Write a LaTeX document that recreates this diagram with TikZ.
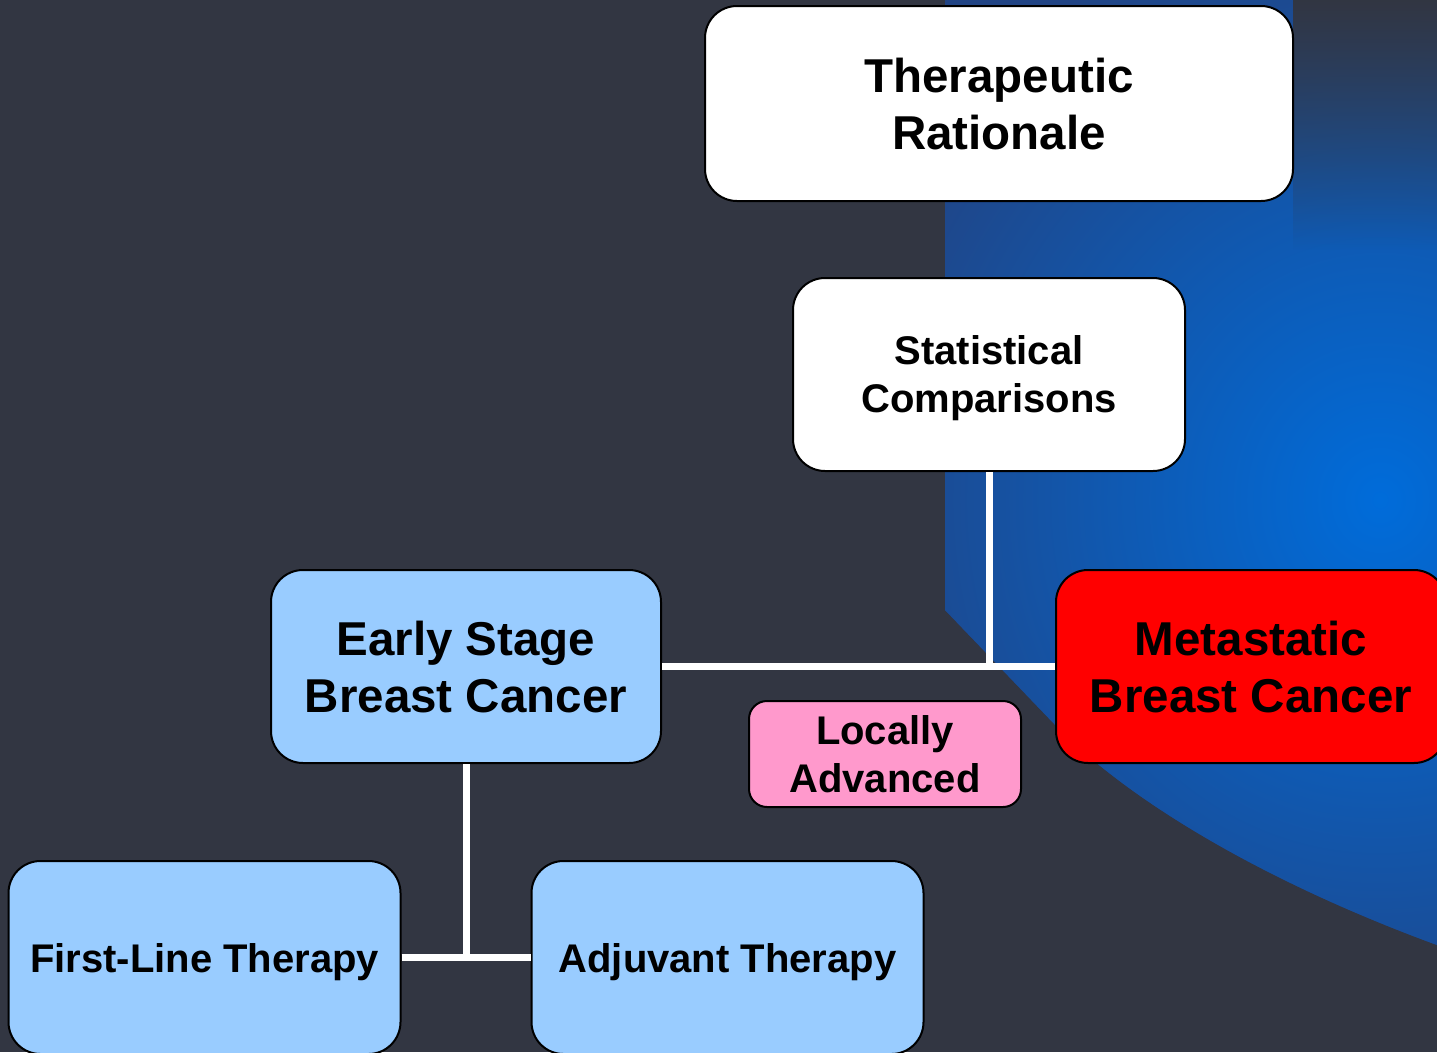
\documentclass[tikz,border=0pt]{standalone}
\usepackage{fontspec}
\setmainfont{Liberation Sans}
\usepackage{tikz}
\usetikzlibrary{positioning, calc, fadings}
\definecolor{slate-bg}{RGB}{50,54,66}
\definecolor{navy-bg}{RGB}{33,68,132}
\definecolor{glow-bg}{RGB}{0,108,218}
\definecolor{early-color}{RGB}{153,204,255}
\definecolor{local-color}{RGB}{255,153,204}
\definecolor{meta-color}{RGB}{255,0,0}
\tikzfading[name=fadetop, top color=transparent!0, bottom color=transparent!100]

\begin{document}
\begin{tikzpicture}[x=1pt, y=-1pt,
    box/.style={rectangle, draw=black, fill=#1, line width=2pt, rounded corners=32pt, align=center, inner sep=0pt, text=black, text depth=0pt, minimum width=390pt, minimum height=193pt},
    bigtext/.style={font=\bfseries\fontsize{47.5}{57}\selectfont},
    smalltext/.style={font=\bfseries\fontsize{40}{48}\selectfont},
    link/.style={draw=white, line width=7pt}]

    % Background: dark slate with blue glow on the right
    \clip (0,0) rectangle (1437,1052);
    \fill[slate-bg] (0,0) rectangle (1437,1052);
    \begin{scope}
        \clip (945,0) -- (1437,0) -- (1437,945)
            .. controls (1260,880) and (1130,800) .. (1060,730) -- (945,610) -- cycle;
        \fill[navy-bg] (945,0) rectangle (1437,1052);
        \shade[inner color=glow-bg, outer color=navy-bg] (1380,500) ellipse (560 and 600);
        \fill[slate-bg, path fading=fadetop] (1293,-1) rectangle (1438,250);
    \end{scope}

    % Top boxes
    \node[box=white, bigtext, minimum width=588pt, minimum height=195pt] (rat) at (999,103.5) {Therapeutic\\Rationale};
    \node[box=white, smalltext, minimum width=392pt] (stat) at (989,374.5) {Statistical\\Comparisons};

    % Middle row
    \node[box=early-color, bigtext] (early) at (466,666.5) {Early Stage\\Breast Cancer};
    \node[box=meta-color, bigtext] (meta) at (1251,666.5) {Metastatic\\Breast Cancer};
    \node[box=local-color, smalltext, rounded corners=18pt, minimum width=272pt, minimum height=106pt] (local) at (885,754) {Locally\\Advanced};

    % Bottom row
    \node[box=early-color, smalltext, minimum width=392pt] (first) at (204.5,957.5) {First-Line Therapy};
    \node[box=early-color, smalltext, minimum width=392pt] (adj) at (727.5,957.5) {Adjuvant Therapy};

    % Connectors
    \draw[link] (stat.south) -- (stat.south |- early.east);
    \draw[link] (early.east) -- (meta.west);
    \draw[link] (early.south) -- (early.south |- first.east);
    \draw[link] (first.east) -- (adj.west);
\end{tikzpicture}
\end{document}
